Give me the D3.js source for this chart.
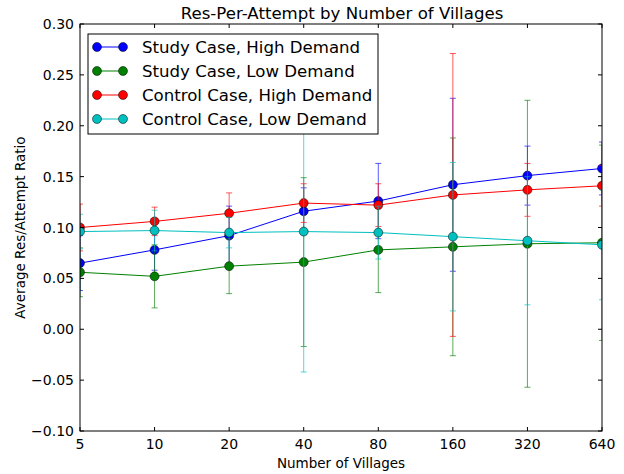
<!DOCTYPE html>
<html lang="en">
<head>
<meta charset="UTF-8">
<title>Res-Per-Attempt by Number of Villages</title>
<style>
  body { margin: 0; background: #fff; }
  svg { font-family: "DejaVu Sans", sans-serif; }
</style>
</head>
<body>
<div id="chart"></div>
<script src="https://d3js.org/d3.v7.min.js"></script>
<script>
// villages counts on the x axis
const villages = [5, 10, 20, 40, 80, 160, 320, 640];
const yTicks = [-0.10, -0.05, 0.00, 0.05, 0.10, 0.15, 0.20, 0.25, 0.30];

const seriesNames = ["Study Case, High Demand", "Study Case, Low Demand", "Control Case, High Demand", "Control Case, Low Demand"];
const seriesColors = ["#0000ff", "#008000", "#ff0000", "#00bfbf"];

// means
const studyHigh = [0.065, 0.078, 0.092, 0.116, 0.126, 0.142, 0.151, 0.158];
const studyLow = [0.056, 0.052, 0.062, 0.066, 0.078, 0.081, 0.084, 0.085];
const controlHigh = [0.100, 0.106, 0.114, 0.124, 0.122, 0.132, 0.137, 0.141];
const controlLow = [0.096, 0.097, 0.095, 0.096, 0.095, 0.091, 0.087, 0.083];

// error (+/-)
const studyHighErr = [0.027, 0.020, 0.029, 0.023, 0.037, 0.085, 0.029, 0.026];
const studyLowErr = [0.024, 0.031, 0.027, 0.083, 0.042, 0.107, 0.141, 0.096];
const controlHighErr = [0.023, 0.014, 0.020, 0.019, 0.021, 0.139, 0.026, 0.020];
const controlLowErr = [0.017, 0.020, 0.015, 0.138, 0.026, 0.073, 0.063, 0.054];

const means = [studyHigh, studyLow, controlHigh, controlLow];
const errs = [studyHighErr, studyLowErr, controlHighErr, controlLowErr];

const W = 624, H = 474;
const margin = { top: 24, right: 22, bottom: 43, left: 80 };

const svg = d3.select("#chart").append("svg")
    .attr("width", W)
    .attr("height", H);

const x = d3.scaleLog().base(2)
    .domain([5, 640])
    .range([margin.left, W - margin.right]);

const y = d3.scaleLinear()
    .domain([-0.10, 0.30])
    .range([H - margin.bottom, margin.top]);

const x0 = margin.left, x1 = W - margin.right, y0 = margin.top, y1 = H - margin.bottom;

svg.append("clipPath").attr("id", "clip")
    .append("rect")
    .attr("x", x0).attr("y", y0)
    .attr("width", x1 - x0).attr("height", y1 - y0);

const plot = svg.append("g").attr("clip-path", "url(#clip)");

// series, each with error bars then line and markers
means.forEach((vals, s) => {
    const color = seriesColors[s];
    const g = plot.append("g");
    const pts = villages.map((v, i) => ({ v: v, m: vals[i], e: errs[s][i] }));

    const eb = g.append("g").attr("stroke", color).attr("stroke-opacity", 0.65).attr("stroke-width", 1);
    pts.forEach(p => {
        const cx = x(p.v);
        eb.append("line").attr("x1", cx).attr("x2", cx)
            .attr("y1", y(p.m - p.e)).attr("y2", y(p.m + p.e));
        [p.m - p.e, p.m + p.e].forEach(c => {
            eb.append("line").attr("x1", cx - 3).attr("x2", cx + 3)
                .attr("y1", y(c)).attr("y2", y(c));
        });
    });

    g.append("path")
        .datum(pts)
        .attr("fill", "none")
        .attr("stroke", color)
        .attr("stroke-width", 1)
        .attr("d", d3.line().x(d => x(d.v)).y(d => y(d.m)));

    g.selectAll("circle")
        .data(pts)
        .enter().append("circle")
        .attr("cx", d => x(d.v))
        .attr("cy", d => y(d.m))
        .attr("r", 4.5)
        .attr("fill", color)
        .attr("stroke", "#000")
        .attr("stroke-width", 0.5);
});

// frame
svg.append("rect")
    .attr("x", x0).attr("y", y0)
    .attr("width", x1 - x0).attr("height", y1 - y0)
    .attr("fill", "none").attr("stroke", "#000").attr("stroke-width", 1);

// ticks (inside, on all four sides)
const tk = svg.append("g").attr("stroke", "#000").attr("stroke-width", 1);
villages.forEach(v => {
    tk.append("line").attr("x1", x(v)).attr("x2", x(v)).attr("y1", y1).attr("y2", y1 - 4);
    tk.append("line").attr("x1", x(v)).attr("x2", x(v)).attr("y1", y0).attr("y2", y0 + 4);
});
yTicks.forEach(t => {
    tk.append("line").attr("x1", x0).attr("x2", x0 + 4).attr("y1", y(t)).attr("y2", y(t));
    tk.append("line").attr("x1", x1).attr("x2", x1 - 4).attr("y1", y(t)).attr("y2", y(t));
});

svg.append("g").selectAll("text")
    .data(villages)
    .enter().append("text")
    .attr("x", d => x(d))
    .attr("y", y1 + 18)
    .attr("text-anchor", "middle")
    .attr("font-size", "14px")
    .text(d => d);

svg.append("g").selectAll("text")
    .data(yTicks)
    .enter().append("text")
    .attr("x", x0 - 6)
    .attr("y", d => y(d) + 5)
    .attr("text-anchor", "end")
    .attr("font-size", "14px")
    .text(d => d.toFixed(2).replace("-", "\u2212"));

// title and axis labels
svg.append("text")
    .attr("x", (x0 + x1) / 2 + 1)
    .attr("y", 19)
    .attr("text-anchor", "middle")
    .attr("font-size", "16.6px")
    .text("Res-Per-Attempt by Number of Villages");

svg.append("text")
    .attr("x", (x0 + x1) / 2)
    .attr("y", 468)
    .attr("text-anchor", "middle")
    .attr("font-size", "13.5px")
    .text("Number of Villages");

svg.append("text")
    .attr("transform", `translate(25,${(y0 + y1) / 2}) rotate(-90)`)
    .attr("text-anchor", "middle")
    .attr("font-size", "13.5px")
    .text("Average Res/Attempt Ratio");

// legend
const legend = svg.append("g").attr("transform", "translate(88,34)");
legend.append("rect")
    .attr("width", 290).attr("height", 100)
    .attr("fill", "#fff").attr("stroke", "#000").attr("stroke-width", 1);

seriesNames.forEach((name, i) => {
    const ly = 13 + i * 24;
    legend.append("line")
        .attr("x1", 9).attr("x2", 35).attr("y1", ly).attr("y2", ly)
        .attr("stroke", seriesColors[i]).attr("stroke-width", 1);
    [9, 35].forEach(cx => {
        legend.append("circle")
            .attr("cx", cx).attr("cy", ly).attr("r", 4.5)
            .attr("fill", seriesColors[i]).attr("stroke", "#000").attr("stroke-width", 0.5);
    });
    legend.append("text")
        .attr("x", 54).attr("y", ly + 6)
        .attr("font-size", "16.6px")
        .text(name);
});
</script>
</body>
</html>
